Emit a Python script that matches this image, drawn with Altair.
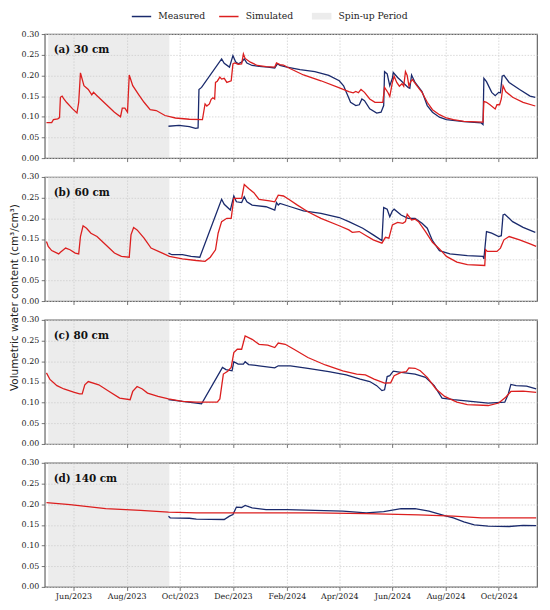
import altair as alt
import pandas as pd

# ---------------- data ----------------
series_names = ["Measured", "Simulated"]
series_colors = ["#1a2a6c", "#dc1f1f"]
spin_label = "Spin-up Period"
spin_start = "2023-05-03"
spin_end = "2023-09-19"
x_domain = ["2023-04-29", "2024-11-14"]
panel_labels = ["(a) 30 cm", "(b) 60 cm", "(c) 80 cm", "(d) 140 cm"]
y_ticks = [0.0, 0.05, 0.10, 0.15, 0.20, 0.25, 0.30]
tick_months = [(2023, 6), (2023, 8), (2023, 10), (2023, 12), (2024, 2),
               (2024, 4), (2024, 6), (2024, 8), (2024, 10)]
y_title = "Volumetric water content (cm³/cm³)"

a_sim = [("2023-05-01",0.086),("2023-05-07",0.086),("2023-05-09",0.093),("2023-05-14",0.095),("2023-05-16",0.098),
         ("2023-05-17",0.147),("2023-05-19",0.150),("2023-05-21",0.143),("2023-05-24",0.135),("2023-05-31",0.119),
         ("2023-06-05",0.109),("2023-06-07",0.135),("2023-06-09",0.206),("2023-06-13",0.175),("2023-06-18",0.166),
         ("2023-06-22",0.153),("2023-06-24",0.159),("2023-06-28",0.151),("2023-07-08",0.131),("2023-07-18",0.111),
         ("2023-07-25",0.100),("2023-07-27",0.121),("2023-07-30",0.121),("2023-08-02",0.111),("2023-08-04",0.201),
         ("2023-08-08",0.175),("2023-08-15",0.153),("2023-08-21",0.135),("2023-08-28",0.117),("2023-09-04",0.115),
         ("2023-09-14",0.103),("2023-09-26",0.097),("2023-10-12",0.094),("2023-10-27",0.093),("2023-10-30",0.131),
         ("2023-11-01",0.126),("2023-11-04",0.131),("2023-11-06",0.142),("2023-11-08",0.146),("2023-11-10",0.143),
         ("2023-11-11",0.183),("2023-11-13",0.186),("2023-11-16",0.196),("2023-11-18",0.191),("2023-11-21",0.193),
         ("2023-11-24",0.183),("2023-11-29",0.187),("2023-12-01",0.228),("2023-12-03",0.230),("2023-12-07",0.227),
         ("2023-12-11",0.228),("2023-12-13",0.252),("2023-12-15",0.241),("2023-12-21",0.232),("2023-12-29",0.224),
         ("2024-01-08",0.221),("2024-01-18",0.220),("2024-01-20",0.230),("2024-01-24",0.226),("2024-01-28",0.225),
         ("2024-02-05",0.216),("2024-02-20",0.201),("2024-03-11",0.187),("2024-04-02",0.169),("2024-04-12",0.161),
         ("2024-04-17",0.158),("2024-04-20",0.161),("2024-04-23",0.158),("2024-04-26",0.166),("2024-04-30",0.159),
         ("2024-05-06",0.143),("2024-05-12",0.135),("2024-05-21",0.135),("2024-05-23",0.171),("2024-05-27",0.158),
         ("2024-05-29",0.149),("2024-06-01",0.183),("2024-06-03",0.198),("2024-06-06",0.183),("2024-06-09",0.174),
         ("2024-06-12",0.180),("2024-06-14",0.174),("2024-06-16",0.209),("2024-06-18",0.200),("2024-06-20",0.174),
         ("2024-06-22",0.185),("2024-06-24",0.190),("2024-06-29",0.175),("2024-07-05",0.159),("2024-07-11",0.135),
         ("2024-07-17",0.117),("2024-07-25",0.105),("2024-08-02",0.097),("2024-08-10",0.093),("2024-08-22",0.089),
         ("2024-09-13",0.087),("2024-09-14",0.137),("2024-09-17",0.135),("2024-09-21",0.129),("2024-09-27",0.119),
         ("2024-09-29",0.129),("2024-10-02",0.129),("2024-10-04",0.143),("2024-10-06",0.175),("2024-10-09",0.161),
         ("2024-10-17",0.147),("2024-10-29",0.135),("2024-11-12",0.126)]

a_mea = [("2023-09-18",0.077),("2023-09-30",0.079),("2023-10-12",0.076),("2023-10-19",0.072),("2023-10-22",0.073),
         ("2023-10-23",0.166),("2023-10-26",0.171),("2023-11-18",0.240),("2023-11-21",0.229),("2023-11-27",0.220),
         ("2023-12-01",0.248),("2023-12-04",0.233),("2023-12-07",0.228),("2023-12-11",0.232),("2023-12-14",0.240),
         ("2023-12-17",0.230),("2023-12-23",0.224),("2023-12-31",0.222),("2024-01-10",0.220),("2024-01-18",0.218),
         ("2024-01-21",0.228),("2024-01-24",0.224),("2024-02-01",0.220),("2024-02-16",0.214),("2024-03-04",0.209),
         ("2024-03-20",0.200),("2024-04-01",0.187),("2024-04-06",0.175),("2024-04-10",0.155),("2024-04-14",0.135),
         ("2024-04-20",0.127),("2024-04-24",0.129),("2024-04-27",0.143),("2024-04-30",0.139),("2024-05-06",0.119),
         ("2024-05-14",0.109),("2024-05-19",0.111),("2024-05-22",0.127),("2024-05-23",0.209),("2024-05-26",0.204),
         ("2024-05-29",0.175),("2024-06-01",0.193),("2024-06-02",0.207),("2024-06-07",0.195),("2024-06-11",0.187),
         ("2024-06-19",0.171),("2024-06-21",0.169),("2024-06-23",0.201),("2024-06-27",0.183),("2024-07-05",0.161),
         ("2024-07-11",0.127),("2024-07-17",0.111),("2024-07-25",0.099),("2024-08-02",0.093),("2024-08-22",0.088),
         ("2024-09-11",0.085),("2024-09-13",0.081),("2024-09-14",0.193),("2024-09-17",0.185),("2024-09-23",0.159),
         ("2024-09-27",0.151),("2024-10-01",0.159),("2024-10-03",0.158),("2024-10-05",0.198),("2024-10-07",0.200),
         ("2024-10-13",0.183),("2024-10-25",0.166),("2024-11-06",0.150),("2024-11-12",0.147)]

b_sim = [("2023-05-01",0.144),("2023-05-03",0.132),("2023-05-07",0.122),("2023-05-15",0.114),("2023-05-17",0.118),
         ("2023-05-23",0.128),("2023-05-28",0.124),("2023-06-03",0.116),("2023-06-07",0.114),("2023-06-09",0.156),
         ("2023-06-12",0.182),("2023-06-16",0.176),("2023-06-21",0.164),("2023-06-28",0.156),("2023-07-08",0.136),
         ("2023-07-18",0.116),("2023-07-26",0.108),("2023-08-04",0.106),("2023-08-06",0.160),("2023-08-09",0.178),
         ("2023-08-13",0.172),("2023-08-21",0.152),("2023-08-29",0.128),("2023-09-11",0.116),("2023-09-19",0.108),
         ("2023-10-04",0.102),("2023-10-20",0.098),("2023-10-30",0.096),("2023-11-05",0.106),("2023-11-11",0.124),
         ("2023-11-14",0.164),("2023-11-18",0.192),("2023-11-24",0.200),("2023-11-29",0.200),("2023-12-02",0.248),
         ("2023-12-11",0.248),("2023-12-14",0.282),("2023-12-19",0.272),("2023-12-25",0.262),("2023-12-31",0.246),
         ("2024-01-12",0.242),("2024-01-18",0.240),("2024-01-22",0.256),("2024-01-28",0.254),("2024-02-03",0.246),
         ("2024-02-13",0.232),("2024-02-25",0.216),("2024-03-11",0.200),("2024-04-01",0.182),("2024-04-12",0.172),
         ("2024-04-16",0.166),("2024-04-24",0.168),("2024-05-02",0.158),("2024-05-10",0.148),("2024-05-20",0.140),
         ("2024-05-24",0.154),("2024-05-28",0.152),("2024-06-01",0.184),("2024-06-07",0.190),("2024-06-13",0.188),
         ("2024-06-16",0.192),("2024-06-18",0.210),("2024-06-23",0.196),("2024-06-27",0.198),("2024-07-01",0.192),
         ("2024-07-09",0.168),("2024-07-17",0.142),("2024-07-25",0.126),("2024-08-02",0.108),("2024-08-14",0.094),
         ("2024-08-26",0.088),("2024-09-15",0.086),("2024-09-16",0.124),("2024-09-18",0.120),("2024-09-29",0.120),
         ("2024-10-03",0.128),("2024-10-07",0.148),("2024-10-13",0.156),("2024-10-25",0.148),("2024-11-06",0.138),
         ("2024-11-13",0.132)]

b_mea = [("2023-09-18",0.116),("2023-09-22",0.112),("2023-10-04",0.112),("2023-10-14",0.108),("2023-10-24",0.106),
         ("2023-11-18",0.246),("2023-11-21",0.234),("2023-11-28",0.220),("2023-12-02",0.254),("2023-12-05",0.240),
         ("2023-12-11",0.238),("2023-12-14",0.252),("2023-12-17",0.240),("2023-12-23",0.232),("2024-01-08",0.228),
         ("2024-01-18",0.220),("2024-01-20",0.238),("2024-01-22",0.232),("2024-01-24",0.236),("2024-02-05",0.228),
         ("2024-02-20",0.218),("2024-03-11",0.212),("2024-04-01",0.202),("2024-04-12",0.192),("2024-04-28",0.176),
         ("2024-05-10",0.160),("2024-05-20",0.146),("2024-05-22",0.226),("2024-05-26",0.222),("2024-05-29",0.204),
         ("2024-06-01",0.218),("2024-06-03",0.222),("2024-06-11",0.208),("2024-06-19",0.200),("2024-06-27",0.200),
         ("2024-07-05",0.188),("2024-07-11",0.176),("2024-07-17",0.146),("2024-07-25",0.122),("2024-08-06",0.114),
         ("2024-08-26",0.110),("2024-09-13",0.108),("2024-09-14",0.102),("2024-09-17",0.168),("2024-09-23",0.164),
         ("2024-10-01",0.156),("2024-10-04",0.158),("2024-10-06",0.208),("2024-10-08",0.210),("2024-10-17",0.192),
         ("2024-10-29",0.178),("2024-11-12",0.166)]

c_sim = [("2023-05-01",0.172),("2023-05-05",0.156),("2023-05-13",0.141),("2023-05-21",0.133),("2023-06-02",0.125),
         ("2023-06-08",0.121),("2023-06-11",0.121),("2023-06-14",0.143),("2023-06-18",0.151),("2023-06-30",0.143),
         ("2023-07-12",0.127),("2023-07-24",0.111),("2023-08-05",0.107),("2023-08-08",0.127),("2023-08-13",0.139),
         ("2023-08-19",0.133),("2023-08-25",0.123),("2023-09-06",0.115),("2023-09-18",0.109),("2023-10-04",0.103),
         ("2023-10-20",0.101),("2023-11-13",0.101),("2023-11-16",0.109),("2023-11-20",0.169),("2023-11-25",0.176),
         ("2023-11-29",0.185),("2023-12-02",0.221),("2023-12-06",0.229),("2023-12-11",0.229),("2023-12-15",0.261),
         ("2023-12-23",0.253),("2023-12-31",0.241),("2024-01-10",0.239),("2024-01-18",0.233),("2024-01-22",0.244),
         ("2024-01-30",0.241),("2024-02-09",0.229),("2024-02-25",0.209),("2024-03-16",0.191),("2024-04-05",0.177),
         ("2024-04-21",0.169),("2024-05-01",0.167),("2024-05-11",0.157),("2024-05-23",0.147),("2024-05-30",0.148),
         ("2024-06-03",0.165),("2024-06-11",0.173),("2024-06-17",0.175),("2024-06-20",0.184),("2024-06-27",0.183),
         ("2024-07-03",0.177),("2024-07-11",0.161),("2024-07-21",0.133),("2024-07-31",0.115),("2024-08-14",0.101),
         ("2024-08-26",0.095),("2024-09-19",0.093),("2024-10-01",0.099),("2024-10-09",0.113),("2024-10-15",0.127),
         ("2024-10-29",0.128),("2024-11-13",0.125)]

c_mea = [("2023-09-18",0.107),("2023-10-04",0.103),("2023-10-20",0.099),("2023-10-26",0.097),("2023-11-19",0.185),
         ("2023-11-23",0.180),("2023-11-30",0.177),("2023-12-02",0.199),("2023-12-07",0.193),("2023-12-13",0.193),
         ("2023-12-15",0.199),("2023-12-19",0.192),("2023-12-31",0.189),("2024-01-18",0.184),("2024-01-22",0.189),
         ("2024-02-05",0.189),("2024-02-25",0.183),("2024-03-20",0.175),("2024-04-09",0.167),("2024-04-25",0.157),
         ("2024-05-06",0.151),("2024-05-14",0.141),("2024-05-20",0.129),("2024-05-23",0.131),("2024-05-26",0.163),
         ("2024-05-29",0.165),("2024-06-02",0.176),("2024-06-11",0.173),("2024-06-27",0.169),("2024-07-09",0.161),
         ("2024-07-19",0.141),("2024-07-28",0.111),("2024-08-10",0.107),("2024-08-30",0.103),("2024-09-19",0.099),
         ("2024-10-08",0.101),("2024-10-12",0.121),("2024-10-15",0.144),("2024-10-21",0.141),("2024-11-02",0.140),
         ("2024-11-13",0.133)]

d_sim = [("2023-05-01",0.204),("2023-05-28",0.199),("2023-07-08",0.189),("2023-08-17",0.185),("2023-09-18",0.181),
         ("2023-10-20",0.179),("2023-12-15",0.179),("2024-03-03",0.179),("2024-05-02",0.177),("2024-07-01",0.174),
         ("2024-08-10",0.171),("2024-09-11",0.167),("2024-11-13",0.167)]

d_mea = [("2023-09-18",0.171),("2023-09-20",0.167),("2023-10-12",0.166),("2023-10-20",0.164),("2023-11-21",0.163),
         ("2023-11-27",0.171),("2023-12-01",0.175),("2023-12-05",0.193),("2023-12-11",0.192),("2023-12-15",0.197),
         ("2023-12-23",0.191),("2024-01-08",0.187),("2024-02-01",0.187),("2024-03-04",0.185),("2024-04-05",0.183),
         ("2024-05-02",0.179),("2024-05-22",0.182),("2024-06-11",0.189),("2024-06-27",0.189),("2024-07-13",0.183),
         ("2024-07-27",0.175),("2024-08-02",0.171),("2024-08-10",0.167),("2024-08-22",0.157),("2024-09-03",0.150),
         ("2024-09-19",0.147),("2024-10-13",0.146),("2024-10-29",0.149),("2024-11-13",0.148)]

panels = [(a_sim, a_mea), (b_sim, b_mea), (c_sim, c_mea), (d_sim, d_mea)]

# ---------------- layout / style ----------------
W, H, GAP = 496, 125, 19
SERIF = "DejaVu Serif"

tick_values = [alt.DateTime(year=y, month=m, date=1) for y, m in tick_months]

color_legend = alt.Legend(orient="none", legendX=91.5, legendY=-24, direction="horizontal",
                          title=None, symbolType="M-1.95,0L1.95,0", symbolSize=100,
                          symbolStrokeWidth=1.5,
                          labelFont=SERIF, labelFontSize=9.3, labelColor="#222",
                          labelOffset=11, columnPadding=10, padding=0)
fill_legend = alt.Legend(orient="none", legendX=273, legendY=-24, direction="horizontal",
                         title=None, symbolType="M-1.97,-0.67L1.97,-0.67L1.97,0.67L-1.97,0.67Z",
                         symbolSize=100, labelFont=SERIF, labelFontSize=9.3, labelColor="#222",
                         labelOffset=11, padding=0)

spin_df = pd.DataFrame({"start": [spin_start], "end": [spin_end], "period": [spin_label]})


def make_panel(idx):
    sim, mea = panels[idx]
    rows = [{"date": d, "value": v, "series": "Measured"} for d, v in mea] + \
           [{"date": d, "value": v, "series": "Simulated"} for d, v in sim]
    df = pd.DataFrame(rows)
    last = idx == len(panels) - 1

    x_axis = alt.Axis(values=tick_values, format="%b/%Y", labels=last, grid=True,
                      title=None, labelFlush=False)
    if idx == 1:
        y_axis = alt.Axis(values=y_ticks, format=".2f", grid=True, labelFlush=False,
                          title=y_title, titleX=-30.5, titleY=121, titleAngle=270,
                          titleAlign="center", titleBaseline="middle",
                          titleFont="DejaVu Sans", titleFontSize=10.5,
                          titleFontWeight="normal", titleColor="#222")
    else:
        y_axis = alt.Axis(values=y_ticks, format=".2f", grid=True, labelFlush=False, title=None)

    xscale = alt.Scale(domain=x_domain)
    yscale = alt.Scale(domain=[0, 0.30])

    spin = alt.Chart(spin_df).mark_rect(opacity=0.35).encode(
        x=alt.X("start:T", scale=xscale, axis=x_axis),
        x2="end:T",
        fill=alt.Fill("period:N", scale=alt.Scale(domain=[spin_label], range=["#c8c8c8"]),
                      legend=fill_legend),
    )
    lines = alt.Chart(df).mark_line(strokeWidth=1.3).encode(
        x=alt.X("date:T", scale=xscale, axis=x_axis),
        y=alt.Y("value:Q", scale=yscale, axis=y_axis),
        color=alt.Color("series:N", scale=alt.Scale(domain=series_names, range=series_colors),
                        legend=color_legend),
    )
    label = alt.Chart(pd.DataFrame({"t": [panel_labels[idx]]})).mark_text(
        align="left", baseline="middle", font=SERIF, fontSize=10.5, fontWeight="bold",
        color="#111"
    ).encode(x=alt.value(9), y=alt.value(16), text="t:N")

    return alt.layer(spin, lines, label).properties(width=W, height=H)


chart = alt.vconcat(*[make_panel(i) for i in range(4)], spacing=GAP, bounds="flush").properties(
    padding={"left": 0, "top": 0, "right": 2, "bottom": 0}
).configure_view(
    stroke="#666", strokeWidth=1.2
).configure_axis(
    domain=False, tickColor="#555", tickSize=3.5, tickWidth=0.8,
    labelFont=SERIF, labelFontSize=8, labelColor="#222", labelPadding=2.5,
    gridColor="#cfcfcf", gridDash=[1.5, 1.5], gridWidth=0.8,
)

chart.save("out.html", embed_options={"renderer": "svg", "actions": False})
